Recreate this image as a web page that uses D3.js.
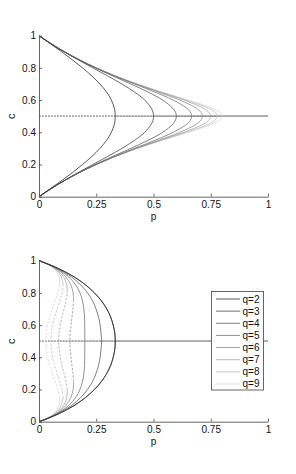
<!DOCTYPE html>
<html>
<head>
<meta charset="utf-8">
<script src="https://cdn.jsdelivr.net/npm/d3@7"></script>
<style>
  body { margin: 0; background: #fff; }
  svg { display: block; font-family: "Liberation Sans", Arial, sans-serif; }
</style>
</head>
<body>
<div id="chart"></div>
<script>
// q values and tick labels
var qValues = [2, 3, 4, 5, 6, 7, 8, 9];
var xTicks = [0, 0.25, 0.5, 0.75, 1];
var yTicks = [0, 0.2, 0.4, 0.6, 0.8, 1];

// top panel: c grid and p read for each q
var cTop = [0, 0.05, 0.1, 0.15, 0.2, 0.25, 0.3, 0.35, 0.4, 0.45, 0.475, 0.5, 0.525, 0.55, 0.6, 0.65, 0.7, 0.75, 0.8, 0.85, 0.9, 0.95, 1];
var topQ2 = [0, .050, .099, .146, .190, .231, .266, .295, .316, .329, .332, .333, .332, .329, .316, .295, .266, .231, .190, .146, .099, .050, 0];
var topQ3 = [0, .052, .110, .171, .235, .300, .362, .417, .462, .490, .498, .500, .498, .490, .462, .417, .362, .300, .235, .171, .110, .052, 0];
var topQ4 = [0, .053, .111, .176, .246, .322, .401, .476, .540, .584, .596, .600, .596, .584, .540, .476, .401, .322, .246, .176, .111, .053, 0];
var topQ5 = [0, .053, .111, .176, .249, .330, .417, .506, .586, .645, .661, .667, .661, .645, .586, .506, .417, .330, .249, .176, .111, .053, 0];
var topQ6 = [0, .053, .111, .176, .250, .332, .424, .521, .615, .687, .707, .714, .707, .687, .615, .521, .424, .332, .250, .176, .111, .053, 0];
var topQ7 = [0, .053, .111, .176, .250, .333, .426, .529, .633, .717, .741, .750, .741, .717, .633, .529, .426, .333, .250, .176, .111, .053, 0];
var topQ8 = [0, .053, .111, .176, .250, .333, .428, .533, .644, .739, .768, .778, .768, .739, .644, .533, .428, .333, .250, .176, .111, .053, 0];
var topQ9 = [0, .053, .111, .176, .250, .333, .428, .536, .652, .755, .788, .800, .788, .755, .652, .536, .428, .333, .250, .176, .111, .053, 0];

// bottom panel
var cBot = [0, 0.02, 0.05, 0.1, 0.15, 0.2, 0.25, 0.3, 0.35, 0.4, 0.45, 0.5, 0.55, 0.6, 0.65, 0.7, 0.75, 0.8, 0.85, 0.9, 0.95, 0.98, 1];
var botQ2 = [0, .038, .087, .153, .203, .242, .273, .296, .313, .324, .331, .333, .331, .324, .313, .296, .273, .242, .203, .153, .087, .038, 0];
var botQ3 = [0, .038, .087, .153, .203, .242, .273, .296, .313, .324, .331, .333, .331, .324, .313, .296, .273, .242, .203, .153, .087, .038, 0];
var botQ4 = [0, .037, .083, .141, .182, .212, .234, .249, .260, .267, .271, .273, .271, .267, .260, .249, .234, .212, .182, .141, .083, .037, 0];
var botQ5 = [0, .036, .079, .129, .160, .179, .190, .196, .199, .1997, .2000, .2000, .2000, .1997, .199, .196, .190, .179, .160, .129, .079, .036, 0];
var botQ6 = [0, .036, .076, .117, .139, .149, .151, .148, .144, .140, .136, .135, .136, .140, .144, .148, .151, .149, .139, .117, .076, .036, 0];
var botQ7 = [0, .035, .072, .107, .121, .123, .118, .109, .100, .093, .088, .086, .088, .093, .100, .109, .118, .123, .121, .107, .072, .035, 0];
var botQ8 = [0, .034, .069, .097, .105, .101, .091, .079, .068, .059, .054, .052, .054, .059, .068, .079, .091, .101, .105, .097, .069, .034, 0];
var botQ9 = [0, .034, .065, .088, .090, .082, .070, .057, .046, .037, .032, .030, .032, .037, .046, .057, .070, .082, .090, .088, .065, .034, 0];

var topSeries = [topQ2, topQ3, topQ4, topQ5, topQ6, topQ7, topQ8, topQ9];
var botSeries = [botQ2, botQ3, botQ4, botQ5, botQ6, botQ7, botQ8, botQ9];

var width = 296, height = 474;
var greys = d3.scaleLinear().domain([0, 7]).range(["#2e2e2e", "#d4d4d4"]);

var svg = d3.select("#chart").append("svg")
    .attr("width", width)
    .attr("height", height);

var x = d3.scaleLinear().domain([0, 1]).range([39, 268]);

function panel(top, bottom, cGrid, series, splitUnstable) {
  var y = d3.scaleLinear().domain([0, 1]).range([bottom, top]);
  var g = svg.append("g");

  var line = d3.line()
      .x(d => x(d[0]))
      .y(d => y(d[1]))
      .curve(d3.curveCatmullRom.alpha(0.5));

  var mid = cGrid.indexOf(0.5);
  var n = cGrid.length;

  // c = 1/2 branch for every q: unstable (dotted) below pc, stable above
  series.forEach(function(p, k) {
    var pc = p[mid];
    g.append("path")
      .attr("d", line([[0, 0.5], [pc, 0.5]]))
      .attr("fill", "none").attr("stroke", greys(k)).attr("stroke-width", 0.8)
      .attr("stroke-opacity", 0.55)
      .attr("stroke-dasharray", "1.5,1.5");
    g.append("path")
      .attr("d", line([[pc, 0.5], [1, 0.5]]))
      .attr("fill", "none").attr("stroke", greys(k)).attr("stroke-width", 0.8)
      .attr("stroke-opacity", 0.55);
  });

  // darkest drawn last so it sits on top
  for (var k = series.length - 1; k >= 0; k--) {
    var p = series[k];
    var col = greys(k);
    var pts = cGrid.map((c, i) => [p[i], c]);

    var segs = [{pts: pts, dash: null}];
    if (splitUnstable) {
      var imax = 0;
      for (var i = 0; i <= mid; i++) if (p[i] >= p[imax]) imax = i;
      if (imax < mid) {
        segs = [
          {pts: pts.slice(0, imax + 1), dash: null},
          {pts: pts.slice(imax, n - imax), dash: "2.2,1.6"},
          {pts: pts.slice(n - 1 - imax), dash: null}
        ];
      }
    }
    segs.forEach(function(s) {
      g.append("path")
        .attr("d", line(s.pts))
        .attr("fill", "none")
        .attr("stroke", col)
        .attr("stroke-width", 0.8)
        .attr("stroke-dasharray", s.dash);
    });
  }

  // axes, ticks pointing inward
  var ax = g.append("g").attr("transform", "translate(0," + bottom + ")")
      .call(d3.axisBottom(x).tickValues(xTicks).tickFormat(d3.format("")).tickSizeInner(-3).tickSizeOuter(0).tickPadding(4.4));
  var ay = g.append("g").attr("transform", "translate(39,0)")
      .call(d3.axisLeft(y).tickValues(yTicks).tickFormat(d3.format("")).tickSizeInner(-3).tickSizeOuter(0).tickPadding(3));
  [ax, ay].forEach(function(a) {
    a.attr("font-family", null).attr("font-size", 10);
    a.selectAll("path, line").attr("stroke", "#555").attr("stroke-width", 0.9);
    a.selectAll("text").attr("fill", "#111");
  });

  g.append("text")
    .attr("x", x(0.5)).attr("y", bottom + 23)
    .attr("text-anchor", "middle").attr("font-size", 10).attr("fill", "#111")
    .text("p");
  g.append("text")
    .attr("transform", "translate(15," + y(0.5) + ") rotate(-90)")
    .attr("text-anchor", "middle").attr("font-size", 11).attr("fill", "#111")
    .text("c");

  return y;
}

panel(35.7, 196.7, cTop, topSeries, false);
panel(260.7, 421.7, cBot, botSeries, true);

// legend for the bottom panel
var leg = svg.append("g").attr("transform", "translate(211.5,291.5)");
leg.append("rect")
  .attr("width", 52).attr("height", 98.5)
  .attr("fill", "#fff").attr("stroke", "#555").attr("stroke-width", 0.9);
qValues.forEach(function(q, k) {
  var yy = 7.5 + k * 12.14;
  leg.append("line")
    .attr("x1", 4.5).attr("x2", 28.5).attr("y1", yy).attr("y2", yy)
    .attr("stroke", greys(k)).attr("stroke-width", 0.8);
  leg.append("text")
    .attr("x", 31).attr("y", yy + 3.5)
    .attr("font-size", 10).attr("fill", "#111")
    .text("q=" + q);
});
</script>
</body>
</html>
